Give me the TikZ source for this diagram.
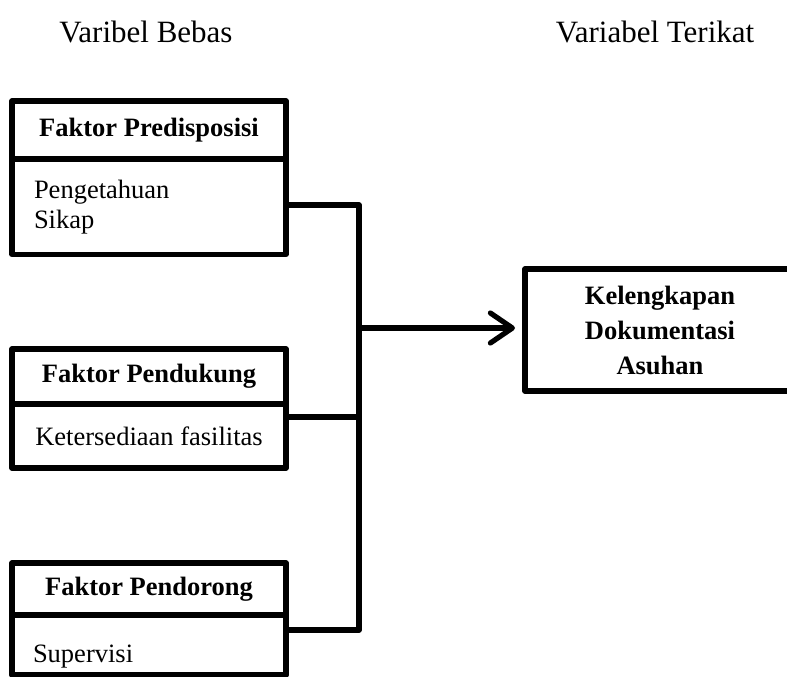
\documentclass[tikz,border=0pt]{standalone}
\usepackage{fontspec}
\setmainfont{Liberation Serif}
\usetikzlibrary{positioning,arrows.meta}

\begin{document}
\begin{tikzpicture}[x=0.5pt, y=-0.5pt, every node/.style={font=\fontsize{13.25pt}{15pt}\selectfont}]
  \tikzset{
    kotak/.style={draw, line width=2.6pt, line join=round, outer sep=0pt, inner sep=0pt},
    judul/.style={kotak, minimum width=137pt, align=center, font=\fontsize{13.25pt}{15pt}\selectfont\bfseries},
    isikiri/.style={kotak, text width=#1, align=left, inner xsep=11pt},
    isitengah/.style={kotak, minimum width=137pt, align=center},
    garis/.style={line width=2.6pt, line join=round, line cap=round}
  }
  \useasboundingbox (0,0) rectangle (787,676);
  \clip (0,0) rectangle (787,676);

  \node[font=\fontsize{15.5pt}{18pt}\selectfont] (tBebas)  at (146,32) {Varibel Bebas};
  \node[font=\fontsize{15.5pt}{18pt}\selectfont] (tTerikat) at (655,32) {Variabel Terikat};

  \node[judul, minimum height=29pt]   (fPre)    at (149,130) {Faktor Predisposisi};
  \node[isikiri=115pt, minimum height=47.75pt, below=0pt of fPre] (fPreIsi) {Pengetahuan\\Sikap};

  \node[judul, minimum height=27.5pt] (fDuk)    at (149,376.5) {Faktor Pendukung};
  \node[isitengah, minimum height=32pt, below=0pt of fDuk] (fDukIsi) {Ketersediaan fasilitas};

  \node[judul, minimum height=26pt]   (fDor)    at (149,589) {Faktor Pendorong};
  \node[isikiri=116pt, minimum height=30pt, inner xsep=10.5pt, text height=18pt, text depth=1pt, below=0pt of fDor] (fDorIsi) {Supervisi};

  \node[kotak, minimum width=135pt, minimum height=61pt, align=center,
        font=\fontsize{13.25pt}{17.5pt}\selectfont\bfseries] (hasil) at (660,330) {Kelengkapan\\Dokumentasi\\Asuhan};

  \coordinate (busAtas)  at (359,205);
  \coordinate (busDuk)   at (359,417);
  \coordinate (busKel)   at (359,328);
  \coordinate (busBawah) at (359,630);

  \draw[garis] (fPreIsi.east |- busAtas) -- (busAtas) -- (busBawah) -- (fDorIsi.east |- busBawah);
  \draw[garis] (fDukIsi.east |- busDuk) -- (busDuk);
  \draw[garis, -{Straight Barb[length=11pt, width=15pt, line cap=round, line join=round]}, shorten >=5pt] (busKel) -- (hasil.west |- busKel);
\end{tikzpicture}
\end{document}
